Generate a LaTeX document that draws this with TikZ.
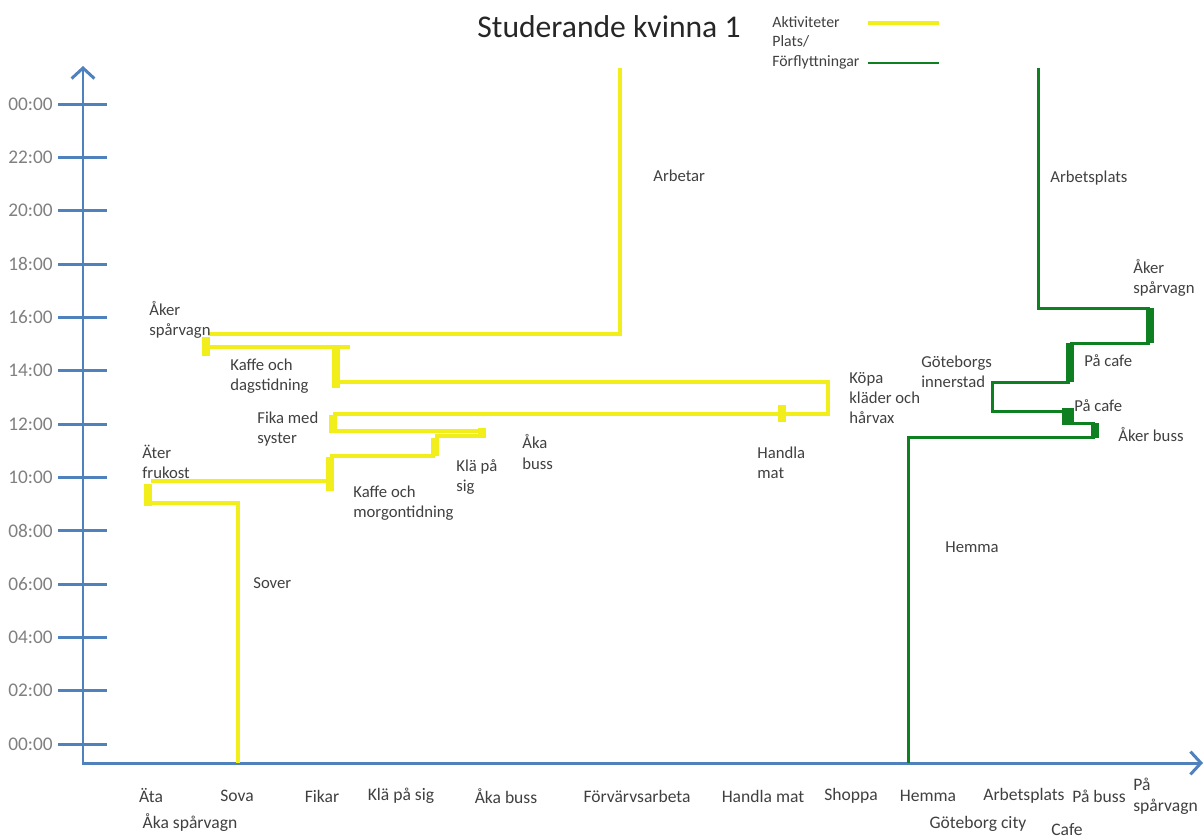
\documentclass[tikz,border=0pt]{standalone}
\usepackage{fontspec}
\setmainfont{Carlito}
\usetikzlibrary{positioning}
\usetikzlibrary{arrows.meta}

\definecolor{axisblue}{RGB}{79,129,189}
\definecolor{aktyellow}{RGB}{242,238,28}
\definecolor{platsgreen}{RGB}{14,128,34}

\tikzset{
  axis/.style = {axisblue, line width=1.7pt, >={Straight Barb[length=6pt, width=13pt]}},
  aktline/.style = {aktyellow, line width=2.3pt},
  aktmark/.style = {aktyellow, line width=4.2pt},
  platsline/.style = {platsgreen, line width=1.7pt},
  platsmark/.style = {platsgreen, line width=4.2pt},
  lbl/.style = {anchor=west, align=left, inner sep=0pt, text=black!75,
                font=\fontsize{9.5}{11.4}\selectfont},
  xlbl/.style = {inner sep=0pt, text=black!75, font=\fontsize{10}{12}\selectfont},
  tlbl/.style = {anchor=east, inner sep=0pt, text=black!50, font=\fontsize{11}{13}\selectfont}
}

\begin{document}
\begin{tikzpicture}[x=0.02cm, y=-0.02cm]
  \useasboundingbox (0,0) rectangle (1204,839);

  % title and legend
  \node[font=\fontsize{18}{22}\selectfont, text=black!85] (title) at (609,27) {Studerande kvinna 1};
  \node[lbl, font=\fontsize{9}{11.3}\selectfont] (aktiv) at (772,22) {Aktiviteter};
  \node[lbl, font=\fontsize{9}{11.3}\selectfont] (platsf) at (772,52) {Plats/\\Förflyttningar};
  \coordinate (ly1) at (868,23);
  \coordinate (ly2) at (939,23);
  \coordinate (lg1) at (868,63);
  \coordinate (lg2) at (939,63);
  \draw[aktline] (ly1) -- (ly2);
  \draw[platsline] (lg1) -- (lg2);

  % axes
  \coordinate (o) at (83,763);
  \coordinate (ytop) at (83,66);
  \coordinate (xend) at (1203,763);
  \draw[axis, <->] (ytop) -- (o) -- (xend);
  \foreach \k/\t in {0/00:00, 1/02:00, 2/04:00, 3/06:00, 4/08:00, 5/10:00, 6/12:00,
                     7/14:00, 8/16:00, 9/18:00, 10/20:00, 11/22:00, 12/00:00} {
    \draw[axis] (58,{744-53.33*\k}) -- (107,{744-53.33*\k});
    \node[tlbl] (t\k) at (53,{744-53.33*\k}) {\t};
  }

  % x labels
  \foreach \x/\t [count=\i] in {151/Äta, 237/Sova, 322/Fikar, 401/Klä på sig, 506/Åka buss,
                                637/Förvärvsarbeta, 763/Handla mat, 851/Shoppa, 928/Hemma,
                                1024/Arbetsplats, 1099/På buss}
    \node[xlbl] (x\i) at (\x,796) {\t};
  \node[xlbl, anchor=west, align=left] (xpasp) at (1133,796) {På\\spårvagn};
  \node[xlbl] (xasp) at (190,823) {Åka spårvagn};
  \node[xlbl] (xgbg) at (978,824) {Göteborg city};
  \node[xlbl] (xcafe) at (1067,830) {Cafe};

  % activities
  \draw[aktline] (238,763) -- (238,503) -- (146,503);
  \draw[aktmark] (148,484) -- (148,506);
  \draw[aktline] (151,481) -- (330,481);
  \draw[aktmark] (330,457) -- (330,491);
  \draw[aktline] (330,456) -- (435,456);
  \draw[aktmark] (435,438) -- (435,456);
  \draw[aktline] (435,436) -- (482,436);
  \draw[aktmark] (482,428) -- (482,438);
  \draw[aktline] (482,431) -- (333,431);
  \draw[aktmark] (333,415) -- (333,433);
  \draw[aktline] (333,414) -- (828,414) -- (828,382) -- (336,382);
  \draw[aktmark] (782,405) -- (782,422);
  \draw[aktmark] (336,348) -- (336,388);
  \draw[aktline] (350,347) -- (206,347);
  \draw[aktmark] (206,337) -- (206,356);
  \draw[aktline] (208,334) -- (620,334) -- (620,68);

  % places
  \draw[platsline] (908,763) -- (908,437) -- (1095,437);
  \draw[platsmark] (1095,423) -- (1095,438);
  \draw[platsline] (1095,423) -- (1068,423);
  \draw[platsgreen, line width=6.8pt] (1068,408) -- (1068,425);
  \draw[platsline] (1068,411) -- (992,411) -- (992,382) -- (1070,382);
  \draw[platsmark] (1070,343) -- (1070,382);
  \draw[platsline] (1070,343) -- (1150,343);
  \draw[platsmark] (1150,308) -- (1150,343);
  \draw[platsline] (1150,308) -- (1038,308) -- (1038,68);

  % labels
  \node[lbl] (aker) at (149,320) {Åker\\spårvagn};
  \node[lbl] (kaffe1) at (230,376) {Kaffe och\\dagstidning};
  \node[lbl] (fika) at (257,429) {Fika med\\syster};
  \node[lbl] (ater) at (142,462) {Äter\\frukost};
  \node[lbl] (kaffe2) at (353,503) {Kaffe och\\morgontidning};
  \node[lbl] (kla) at (456,477) {Klä på\\sig};
  \node[lbl] (akabuss) at (522,452) {Åka\\buss};
  \node[lbl] (handla) at (757,463) {Handla\\mat};
  \node[lbl] (kopa) at (849,398) {Köpa\\kläder och\\hårvax};
  \node[lbl] (sover) at (253,583) {Sover};
  \node[lbl] (arbetar) at (653,176) {Arbetar};
  \node[lbl] (arbplats) at (1050,178) {Arbetsplats};
  \node[lbl] (akerspv) at (1133,278) {Åker\\spårvagn};
  \node[lbl] (pacafe1) at (1084,361) {På cafe};
  \node[lbl] (gbg) at (921,372) {Göteborgs\\innerstad};
  \node[lbl] (pacafe2) at (1074,406) {På cafe};
  \node[lbl] (akerbuss) at (1118,434) {Åker buss};
  \node[lbl] (hemma) at (945,547) {Hemma};
\end{tikzpicture}
\end{document}
